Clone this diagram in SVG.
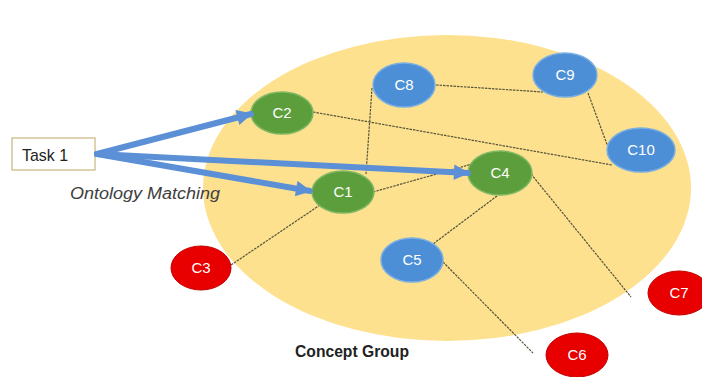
<svg xmlns="http://www.w3.org/2000/svg" width="702" height="377" viewBox="0 0 702 377">
<style>
.bg{fill:#fde18f}
.g{fill:#5c9e3c;stroke:#7fb862;stroke-width:1.5}
.b{fill:#4d8fd7;stroke:#79aee2;stroke-width:1.5}
.r{fill:#e80000;stroke:#c40000;stroke-width:1}
.lbl{font-family:"Liberation Sans",Arial,sans-serif;font-size:15px;fill:#ffffff;text-anchor:middle}
.ln{stroke:#56543a;stroke-width:1.2;stroke-dasharray:2.5 1;fill:none}
.ar{stroke:#5b8fd6;stroke-width:6;fill:none;stroke-linecap:round}
</style>
<defs>
<marker id="ah" viewBox="0 0 10 10" refX="9" refY="5" markerWidth="3.3" markerHeight="2.6" orient="auto" markerUnits="strokeWidth">
<path d="M0,0 L10,5 L0,10 z" fill="#5b8fd6"/>
</marker>
</defs>
<rect width="702" height="377" fill="#ffffff"/>
<g id="concept-group">
<ellipse class="bg" cx="447" cy="188" rx="244" ry="153"/>
<text x="352" y="357" font-family="'Liberation Sans',Arial,sans-serif" font-size="17" font-weight="bold" fill="#222" text-anchor="middle" textLength="114" lengthAdjust="spacingAndGlyphs">Concept Group</text>
</g>
<g id="connectors">
<line class="ln" x1="313" y1="112" x2="612" y2="165"/>
<line class="ln" x1="372" y1="88" x2="366" y2="174"/>
<line class="ln" x1="436" y1="85" x2="543" y2="92"/>
<line class="ln" x1="588" y1="93" x2="608" y2="147"/>
<line class="ln" x1="373" y1="192" x2="472" y2="164"/>
<line class="ln" x1="497" y1="196" x2="433" y2="244"/>
<line class="ln" x1="531" y1="174" x2="631" y2="297"/>
<line class="ln" x1="443" y1="262" x2="533" y2="353"/>
<line class="ln" x1="231" y1="265" x2="320" y2="205"/>
</g>
<g id="task1">
<rect x="12" y="138" width="83" height="32" fill="#ffffff" stroke="#c9b47e" stroke-width="1.2"/>
<text x="22" y="161" font-family="'Liberation Sans',Arial,sans-serif" font-size="17" fill="#222" textLength="46" lengthAdjust="spacingAndGlyphs">Task 1</text>
</g>
<g id="c2"><ellipse class="g" cx="282" cy="113" rx="31" ry="21"/><text class="lbl" x="282" y="118">C2</text></g>
<g id="c1"><ellipse class="g" cx="343" cy="192" rx="31" ry="21"/><text class="lbl" x="343" y="197">C1</text></g>
<g id="c4"><ellipse class="g" cx="500" cy="173" rx="32" ry="22"/><text class="lbl" x="500" y="178">C4</text></g>
<g id="c8"><ellipse class="b" cx="404" cy="85" rx="31" ry="22"/><text class="lbl" x="404" y="90">C8</text></g>
<g id="c9"><ellipse class="b" cx="565" cy="75" rx="32" ry="22"/><text class="lbl" x="565" y="80">C9</text></g>
<g id="c10"><ellipse class="b" cx="641" cy="150" rx="34" ry="22"/><text class="lbl" x="641" y="155">C10</text></g>
<g id="c5"><ellipse class="b" cx="412" cy="260" rx="31" ry="22"/><text class="lbl" x="412" y="265">C5</text></g>
<g id="c3"><ellipse class="r" cx="201" cy="268" rx="30" ry="22"/><text class="lbl" x="201" y="273">C3</text></g>
<g id="c7"><ellipse class="r" cx="679" cy="293" rx="31" ry="22"/><text class="lbl" x="679" y="298">C7</text></g>
<g id="c6"><ellipse class="r" cx="577" cy="355" rx="31" ry="22"/><text class="lbl" x="577" y="360">C6</text></g>
<g id="arrows">
<line class="ar" x1="97" y1="154" x2="251" y2="114" marker-end="url(#ah)"/>
<line class="ar" x1="97" y1="154" x2="310" y2="191" marker-end="url(#ah)"/>
<line class="ar" x1="97" y1="154" x2="468" y2="173" marker-end="url(#ah)"/>
<text x="70" y="199" font-family="'Liberation Sans',Arial,sans-serif" font-size="16" font-style="italic" fill="#404040" textLength="150" lengthAdjust="spacingAndGlyphs">Ontology Matching</text>
</g>
</svg>
